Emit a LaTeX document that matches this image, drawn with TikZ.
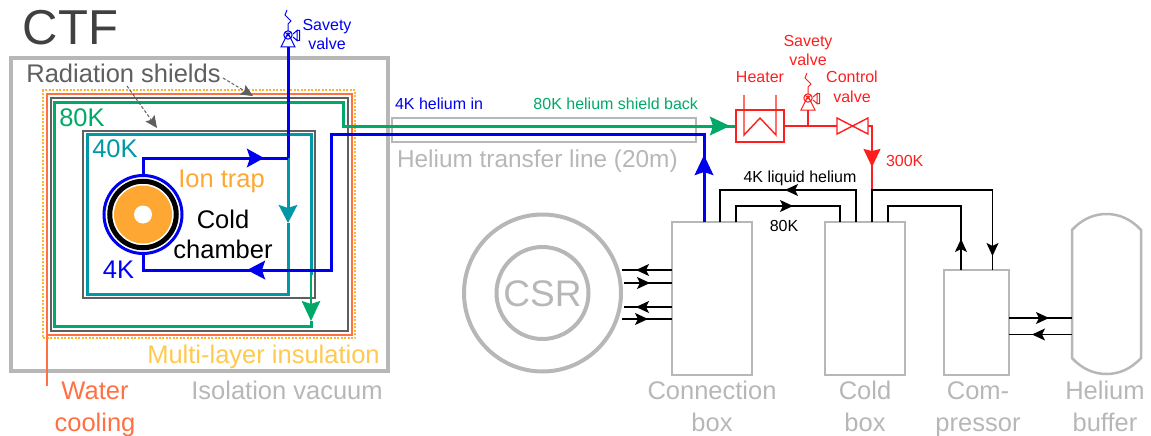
\documentclass[tikz,border=0pt]{standalone}
\usepackage{fontspec}
\setmainfont{Liberation Sans}
\usetikzlibrary{arrows.meta,calc}
\definecolor{gry}{HTML}{B7B7B7}
\definecolor{dgry}{HTML}{5F5F5F}
\definecolor{grn}{HTML}{00A968}
\definecolor{tel}{HTML}{0097A7}
\definecolor{blu}{HTML}{0000F0}
\definecolor{redd}{HTML}{FF1E1E}
\definecolor{wat}{HTML}{FF7043}
\definecolor{org}{HTML}{FFA733}
\definecolor{yel}{HTML}{FFC94F}
\definecolor{mlid}{HTML}{FFB62E}
\tikzset{
 lbl/.style={anchor=base,inner sep=0pt,outer sep=0pt,align=center},
 fs/.style={font=\fontsize{#1}{#1}\selectfont},
 grybox/.style={draw=gry,line width=2.5pt,inner sep=0pt,outer sep=0pt,rectangle,line join=miter},
 shell/.style={rectangle,inner sep=0pt,outer sep=0pt},
 bluel/.style={draw=blu,line width=3pt},
 grnl/.style={draw=grn,line width=3pt},
 tell/.style={draw=tel,line width=3pt},
 blk/.style={draw=black,line width=1.2pt},
 redl/.style={draw=redd,line width=1.4pt},
 bighead/.style={-{Stealth[length=#1,width=18.5pt,inset=3pt]}},
 smallhead/.style={-{Stealth[length=13pt,width=12pt,inset=3pt]}},
 svalve/.pic={
   \draw[line join=miter] (-7,0)--(7,0)--(0,-14)--cycle;
   \draw (0,-12) circle (4.2);
   \draw (-3,-15)--(3,-9) (-3,-9)--(3,-15);
   \draw (5,-13)--(9,-16.5)--(9,-6.5)--(5,-10) (9,-16.5)--(11.5,-16.5)--(11.5,-6.5)--(9,-6.5);
   \draw (0,-16)--(0,-23)--(3,-26)--(-3,-32)--(-1,-37);
 }
}
\begin{document}
\begin{tikzpicture}[x=1pt,y=-1pt]
\useasboundingbox (0,0) rectangle (1151,436);
% CTF enclosure
\node[grybox,line width=3.5pt,minimum width=377pt,minimum height=313pt] (vac) at (199.5,214.5) {};
\node[shell,draw=mlid,line width=1.3pt,dash pattern=on 2pt off 1.5pt,minimum width=312pt,minimum height=248pt] (mli) at (199,214) {};
\node[shell,draw=wat,line width=2.2pt,minimum width=305pt,minimum height=241pt] (water) at (199.5,214.5) {};
\node[shell,draw=dgry,line width=1.5pt,minimum width=297pt,minimum height=233pt] (shA) at (199.5,214.5) {};
\node[shell,draw=dgry,line width=1.5pt,minimum width=232pt,minimum height=167pt] (shB) at (199,214.5) {};
% transfer line
\node[grybox,line width=2pt,minimum width=304pt,minimum height=24pt] (tline) at (544,130) {};
% chamber
\node[circle,fill=org,minimum size=58pt,inner sep=0pt,outer sep=0pt] (trap) at (143,214.5) {};
\node[circle,fill=white,minimum size=18pt,inner sep=0pt,outer sep=0pt] (hole) at (143,214.5) {};
\node[circle,draw=black,line width=5pt,minimum size=66.5pt,inner sep=0pt,outer sep=0pt] (cold) at (143,214.5) {};
\node[circle,draw=blu,line width=3pt,minimum size=78pt,inner sep=0pt,outer sep=0pt] (cham) at (143,214.5) {};
% boxes
\node[grybox,minimum width=80pt,minimum height=153pt] (conn) at (712,298.5) {};
\node[grybox,minimum width=80pt,minimum height=153pt] (cbox) at (865,298.5) {};
\node[grybox,minimum width=65pt,minimum height=105pt] (comp) at (976.5,322.5) {};
\draw[gry,line width=2.5pt] (1072,230) .. controls (1082,219) and (1094,214) .. (1106.5,214) .. controls (1119,214) and (1131,219) .. (1141,230) -- (1141,358) .. controls (1131,369) and (1119,374) .. (1106.5,374) .. controls (1094,374) and (1082,369) .. (1072,358) -- cycle;
\node[circle,draw=gry,line width=4pt,minimum size=157pt,inner sep=0pt,outer sep=0pt] (csrO) at (542.5,293) {};
\node[circle,draw=gry,line width=4pt,minimum size=92pt,inner sep=0pt,outer sep=0pt] (csrI) at (542.5,293) {};
% coordinates
\coordinate (g0) at (736,126);
\coordinate (g0t) at (730,126);
\coordinate (g1) at (343,126);
\coordinate (g2) at (343,102);
\coordinate (g3) at (54.5,102);
\coordinate (g4) at (54.5,326);
\coordinate (g5) at (311,326);
\coordinate (g6) at (311,321);
\coordinate (g7) at (311,275);
\coordinate (t0) at (288,158);
\coordinate (t1) at (288,223);
\coordinate (t2) at (288,294);
\coordinate (t3) at (87,294);
\coordinate (t4) at (87,134);
\coordinate (t5) at (311,134);
\coordinate (bv) at (288,47);
\coordinate (b1) at (288,158);
\coordinate (b2) at (143,158);
\coordinate (b4) at (264,158);
\coordinate (b5) at (143,270);
\coordinate (b6) at (247,270);
\coordinate (b7) at (331,270);
\coordinate (b8) at (331,134);
\coordinate (b9) at (704,134);
\coordinate (b10) at (704,155);
\coordinate (b11) at (704,222);
% teal, green
\draw[tell,bighead=18pt] (t0)--(t1);
\draw[tell,line join=miter] (t1)--(t2)--(t3)--(t4)--(t5)--(g7);
\draw[grn,line width=2pt,bighead=20pt] (g7)--(g6);
\draw[grnl,line join=miter] (g6)--(g5)--(g4)--(g3)--(g2)--(g1)--(g0);
\draw[grnl,bighead=20pt] (g1)--(g0t);
% blue
\draw[bluel] (b1)--(bv);
\draw[bluel,line join=miter] (cham.north)--(b2)--(b1);
\draw[bluel,bighead=17pt] (b2)--(b4);
\draw[bluel,line join=miter] (cham.south)--(b5)--(b7)--(b8)--(b9)--(b11);
\draw[bluel,bighead=18pt] (b7)--(b6);
\draw[bluel,bighead=20pt] (b11)--(b10);
\pic[draw=blu,line width=1pt] at (bv) {svalve};
% red
\node[shell,draw=redd,line width=1.6pt,minimum width=48pt,minimum height=32pt] (heat) at (760,126) {};
\coordinate (h1) at (744,95);
\coordinate (h2) at (744,135);
\coordinate (h3) at (760,118);
\coordinate (h4) at (776,135);
\coordinate (h5) at (776,95);
\draw[redl] (h1)--(h2)--(h3)--(h4)--(h5);
\coordinate (vl) at (837,126);
\coordinate (vr) at (868,126);
\coordinate (sv) at (808,110);
\coordinate (j) at (808,126);
\draw[redl,line join=miter] (837,118)--(868,134)--(868,118)--(837,134)--cycle;
\draw[redl] (heat.east)--(vl);
\draw[redl] (j)--(sv);
\pic[draw=redd,line width=1pt] at (sv) {svalve};
\coordinate (r1) at (872,126);
\coordinate (r2) at (872,167);
\coordinate (r3) at (872,190);
\draw[redl] (vr)--(r1)--(r2)--(r3);
\draw[draw=redd,line width=1.4pt,-{Stealth[length=18pt,width=17pt,inset=2pt]}] (r1)--(r2);
% black
\coordinate (k1) at (720,222);\coordinate (k2) at (720,190);\coordinate (k3) at (856,190);\coordinate (k4) at (856,222);\coordinate (k5) at (785,190);
\draw[blk,line join=miter] (k1)--(k2)--(k3)--(k4);
\draw[blk,smallhead] (k3)--(k5);
\coordinate (m1) at (736,222);\coordinate (m2) at (736,206);\coordinate (m3) at (840,206);\coordinate (m4) at (840,222);\coordinate (m5) at (793,206);
\draw[blk,line join=miter] (m1)--(m2)--(m3)--(m4);
\draw[blk,smallhead] (m2)--(m5);
\coordinate (n1) at (872,222);\coordinate (n2) at (872,190);\coordinate (n3) at (992.5,190);\coordinate (n4) at (992.5,270);\coordinate (n5) at (992.5,256);
\draw[blk,line join=miter] (n1)--(n2)--(n3)--(n4);
\draw[blk,smallhead] (n3)--(n5);
\coordinate (o1) at (888,222);\coordinate (o2) at (888,206);\coordinate (o3) at (961,206);\coordinate (o4) at (961,270);\coordinate (o5) at (961,239);
\draw[blk,line join=miter] (o1)--(o2)--(o3)--(o4);
\draw[blk,smallhead] (o4)--(o5);
\coordinate (p1r) at (672,270);\coordinate (p1l) at (622,270);\coordinate (p1t) at (636,270);
\coordinate (p2r) at (672,283);\coordinate (p2l) at (624,283);\coordinate (p2t) at (650,283);
\coordinate (p3r) at (672,307);\coordinate (p3l) at (624,307);\coordinate (p3t) at (636,307);
\coordinate (p4r) at (672,319);\coordinate (p4l) at (622,319);\coordinate (p4t) at (648,319);
\draw[blk] (p1l)--(p1r) (p2l)--(p2r) (p3l)--(p3r) (p4l)--(p4r);
\draw[blk,smallhead] (p1r)--(p1t);
\draw[blk,smallhead] (p2l)--(p2t);
\draw[blk,smallhead] (p3r)--(p3t);
\draw[blk,smallhead] (p4l)--(p4t);
\coordinate (q1l) at (1009,318);\coordinate (q1r) at (1072,318);\coordinate (q1t) at (1049,318);
\coordinate (q2l) at (1009,334.5);\coordinate (q2r) at (1072,334.5);\coordinate (q2t) at (1032,334.5);
\draw[blk] (q1l)--(q1r) (q2l)--(q2r);
\draw[blk,smallhead] (q1l)--(q1t);
\draw[blk,smallhead] (q2r)--(q2t);
% water cooling tail, label arrows
\coordinate (w0) at (47,335);\coordinate (w1) at (47,386);
\draw[wat,line width=2pt] (w0)--(w1);
\coordinate (s1a) at (223,78);\coordinate (s1b) at (253,96);
\coordinate (s2a) at (127,86);\coordinate (s2b) at (157,128);
\draw[dgry,line width=1pt,densely dashed,-{Stealth[length=12pt,width=11pt,inset=2pt]}] (s1a)--(s1b);
\draw[dgry,line width=1pt,densely dashed,-{Stealth[length=12pt,width=11pt,inset=2pt]}] (s2a)--(s2b);
% labels
\node[lbl,fs=49,text=black!75] (tCTF) at (70.5,45) {CTF};
\node[lbl,fs=25.5,text=dgry] (tRad) at (123.5,82) {Radiation shields};
\node[lbl,fs=25.5,text=grn] (t80) at (82,126) {80K};
\node[lbl,fs=25.5,text=tel] (t40) at (115,157) {40K};
\node[lbl,fs=25.5,text=org] (tIon) at (221.5,187) {Ion trap};
\node[lbl,fs=25.5,text=black] (tCold) at (223,228) {Cold};
\node[lbl,fs=25.5,text=black] (tCham) at (223,258) {chamber};
\node[lbl,fs=25.5,text=blu] (t4K) at (118.5,278) {4K};
\node[lbl,fs=25.5,text=yel] (tMLI) at (263.5,363) {Multi-layer insulation};
\node[lbl,fs=25.5,text=gry] (tIso) at (287,399) {Isolation vacuum};
\node[lbl,fs=25.5,text=wat] (tW1) at (95,399) {Water};
\node[lbl,fs=25.5,text=wat] (tW2) at (95,431) {cooling};
\node[lbl,fs=16,text=blu] (tSV1) at (327,31) {Savety};
\node[lbl,fs=16,text=blu] (tSV2) at (327,50) {valve};
\node[lbl,fs=16,text=blu,anchor=base west] (tIn) at (395,110) {4K helium in};
\node[lbl,fs=16,text=grn,anchor=base east] (tBack) at (698,110) {80K helium shield back};
\node[lbl,fs=24.4,text=gry,anchor=base west] (tTr) at (397,167) {Helium transfer line (20m)};
\node[lbl,fs=16,text=redd] (tR1) at (808,47) {Savety};
\node[lbl,fs=16,text=redd] (tR2) at (808,66) {valve};
\node[lbl,fs=16,text=redd] (tH) at (760,82) {Heater};
\node[lbl,fs=16,text=redd] (tC1) at (852,82) {Control};
\node[lbl,fs=16,text=redd] (tC2) at (852,102) {valve};
\node[lbl,fs=16,text=redd,anchor=base west] (t300) at (886,166) {300K};
\node[lbl,fs=16,text=black] (tLiq) at (800,182) {4K liquid helium};
\node[lbl,fs=16,text=black] (tK) at (784,231) {80K};
\node[lbl,fs=37,text=gry] (tCSR) at (542.5,306) {CSR};
\node[lbl,fs=25.5,text=gry] (tA1) at (712,399) {Connection};
\node[lbl,fs=25.5,text=gry] (tA2) at (712,431) {box};
\node[lbl,fs=25.5,text=gry] (tB1) at (865,399) {Cold};
\node[lbl,fs=25.5,text=gry] (tB2) at (865,431) {box};
\node[lbl,fs=25.5,text=gry] (tC3) at (978,399) {Com-};
\node[lbl,fs=25.5,text=gry] (tC4) at (978,431) {pressor};
\node[lbl,fs=25.5,text=gry] (tD1) at (1105,399) {Helium};
\node[lbl,fs=25.5,text=gry] (tD2) at (1105,431) {buffer};
\end{tikzpicture}
\end{document}
